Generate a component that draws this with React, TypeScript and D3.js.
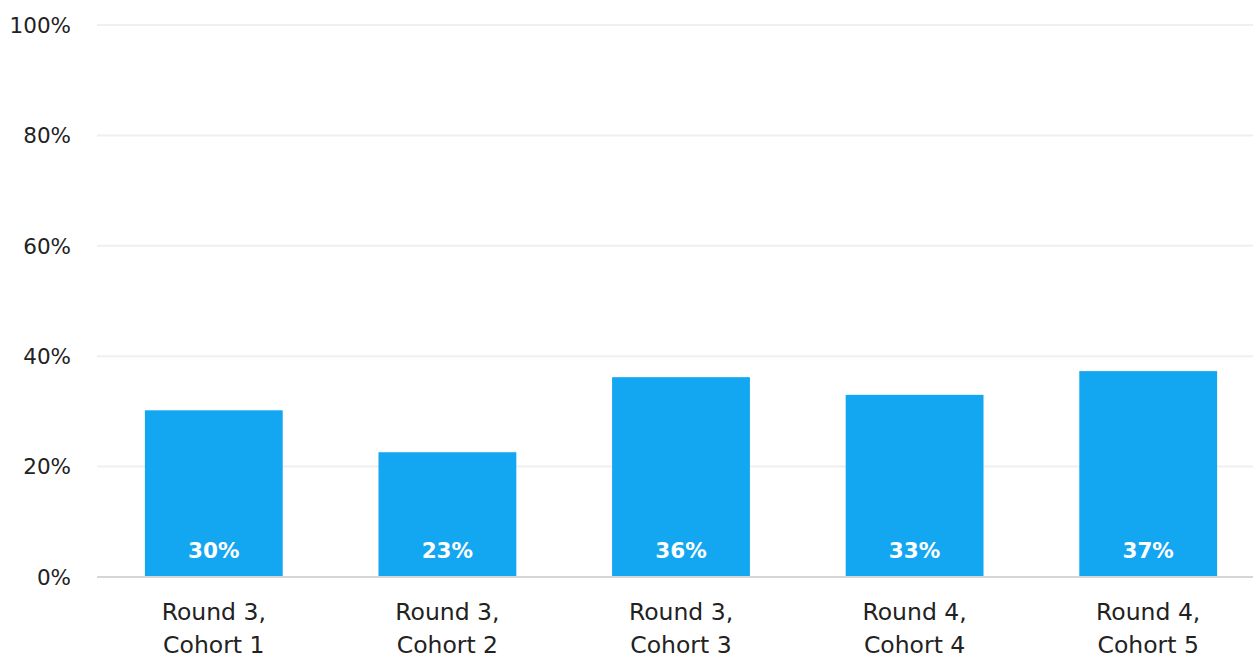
import React from "react";
import * as d3 from "d3";

const categories = [["Round 3,", "Cohort 1"], ["Round 3,", "Cohort 2"], ["Round 3,", "Cohort 3"], ["Round 4,", "Cohort 4"], ["Round 4,", "Cohort 5"]];
const values = [0.302, 0.226, 0.362, 0.33, 0.373];
const valueLabels = ["30%", "23%", "36%", "33%", "37%"];
const yTicks = [0, 0.2, 0.4, 0.6, 0.8, 1.0];

const W = 1253;
const H = 657;
const FONT = "'DejaVu Sans', sans-serif";

export default function App() {
  const x = d3.scaleBand<number>().domain(d3.range(values.length)).range([97, 1265]).paddingInner(0.41).paddingOuter(0.205);
  const y = d3.scaleLinear().domain([0, 1]).range([577, 25]);
  const fmt = d3.format(".0%");
  return (
    <svg width={W} height={H} style={{ position: "absolute", left: 0, top: 0 }}>
      {yTicks.map((t) => (
        <g key={t}>
          {t > 0 && <line x1={97} x2={W} y1={y(t)} y2={y(t)} stroke="#efefef" strokeWidth={2} />}
          <text x={71} y={y(t)} dy="0.36em" textAnchor="end" fontFamily={FONT} fontSize={21.5} fill="#222">{fmt(t)}</text>
        </g>
      ))}
      {values.map((v, i) => (
        <g key={i}>
          <rect x={x(i)} y={y(v)} width={x.bandwidth()} height={y(0) - y(v)} fill="#13a6f1" />
          <text x={(x(i) as number) + x.bandwidth() / 2} y={550} dy="0.36em" textAnchor="middle" fontFamily={FONT} fontWeight={700} fontSize={21.5} fill="#fff">{valueLabels[i]}</text>
          {categories[i].map((line, j) => (
            <text key={j} x={(x(i) as number) + x.bandwidth() / 2} y={612 + j * 33} dy="0.36em" textAnchor="middle" fontFamily={FONT} fontSize={23.5} fill="#222">{line}</text>
          ))}
        </g>
      ))}
      <line x1={97} x2={W} y1={y(0)} y2={y(0)} stroke="#d6d6d6" strokeWidth={2} />
    </svg>
  );
}
